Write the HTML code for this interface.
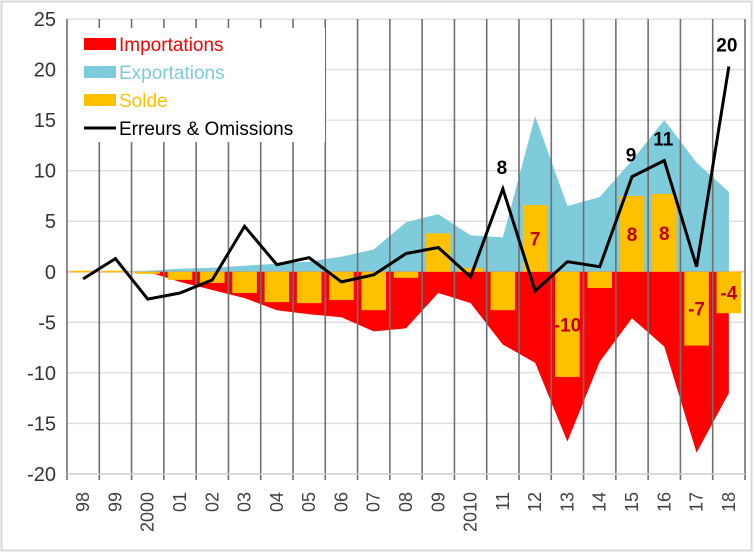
<!DOCTYPE html>
<html><head><meta charset="utf-8"><style>
html,body{margin:0;padding:0;background:#fff}
svg{display:block;font-family:"Liberation Sans",Arial,sans-serif}
</style></head><body>
<svg id="chart" width="754" height="553" xmlns="http://www.w3.org/2000/svg">
<rect x="1.5" y="1.5" width="750" height="549" fill="#fff" stroke="#d9d9d9" stroke-width="2"/>
<g id="grid"></g><g id="areas"></g><g id="bars"></g><g id="vlines"></g><g id="line"></g><g id="labels"></g><g id="axes"></g>
<g>
<rect x="69" y="28" width="256" height="114" fill="#fff"/>
<g><rect x="84" y="38" width="32" height="12" fill="#ff0000"/><text x="119" y="51" font-size="19" fill="#ff0000">Importations</text></g>
<g><rect x="84" y="66" width="32" height="12" fill="#7ecbdc"/><text x="119" y="79" font-size="19" fill="#7ecbdc">Exportations</text></g>
<g><rect x="84" y="94" width="32" height="12" fill="#ffc000"/><text x="119" y="107" font-size="19" fill="#ffc000">Solde</text></g>
<g><line x1="84" y1="128" x2="116" y2="128" stroke="#000" stroke-width="3"/><text x="119" y="135" font-size="19" fill="#000">Erreurs &amp; Omissions</text></g>
</g>
</svg>
<script>
const categories=["98","99","2000","01","02","03","04","05","06","07","08","09","2010","11","12","13","14","15","16","17","18"];
const exportations=[0,0,0.1,0.3,0.4,0.6,0.8,1.0,1.5,2.2,4.9,5.7,3.6,3.4,15.4,6.5,7.4,11.0,15.0,10.8,7.9];
const importations=[0,0,0,-1.0,-1.8,-2.6,-3.8,-4.2,-4.5,-5.9,-5.6,-2.1,-3.1,-7.2,-9.0,-16.8,-8.9,-4.6,-7.4,-17.9,-12.0];
const solde=[0.1,0.1,-0.2,-0.8,-1.1,-2.1,-3.0,-3.1,-2.8,-3.8,-0.6,3.8,0.4,-3.8,6.6,-10.4,-1.6,7.5,7.7,-7.3,-4.1];
const erreurs=[-0.7,1.3,-2.7,-2.1,-0.8,4.5,0.7,1.4,-1.0,-0.3,1.8,2.4,-0.5,8.2,-1.9,1.0,0.5,9.4,11.0,0.5,20.3];
const soldeLabels=[null,null,null,null,null,null,null,null,null,null,null,null,null,null,"7","-10",null,"8","8","-7","-4"];
const erreursLabels=[null,null,null,null,null,null,null,null,null,null,null,null,null,"8",null,null,null,"9","11",null,"20"];
const yTicks=[25,20,15,10,5,0,-5,-10,-15,-20];

const NS="http://www.w3.org/2000/svg";
const L=67,R=745,T=19,B=474,yMin=-20,yMax=25;
const bw=(R-L)/categories.length;
const xs=i=>L+bw*(i+0.5);
const ys=v=>T+(yMax-v)/(yMax-yMin)*(B-T);
function mk(parent,tag,attrs){const e=document.createElementNS(NS,tag);for(const k in attrs)e.setAttribute(k,attrs[k]);document.getElementById(parent).appendChild(e);return e;}

yTicks.forEach(t=>{
  const g=mk('grid','line',{x1:L,x2:R,y1:ys(t),y2:ys(t),stroke:t===0?'#f4c7a8':'#dcdcdc','stroke-width':t===0?2:1.3});
  
  
  const tx=mk('axes','text',{x:56,y:ys(t)+7,'text-anchor':'end','font-size':20,fill:'#333'});
  tx.textContent=t;
  
  
});
function areaPath(vals){let d='M'+xs(0)+','+ys(0);vals.forEach((v,i)=>{d+=' L'+xs(i)+','+ys(v);});d+=' L'+xs(vals.length-1)+','+ys(0)+' Z';return d;}
const ea=mk('areas','path',{d:areaPath(exportations),fill:'#7ecbdc'});


const ia=mk('areas','path',{d:areaPath(importations),fill:'#ff0000'});


solde.forEach((v,i)=>{
  const y0=ys(Math.max(v,0)),h=Math.abs(ys(v)-ys(0));
  const r=mk('bars','rect',{x:xs(i)-bw*0.38,y:y0,width:bw*0.76,height:Math.max(h,1.5),fill:'#ffc000'});
  
  
});
for(let i=0;i<=categories.length;i++){
  const x=L+bw*i;
  const v=mk('vlines','line',{x1:x,x2:x,y1:T,y2:B+6,stroke:'#707070','stroke-width':1.6});
  
  
}
const ax=mk('axes','line',{x1:L,x2:R,y1:B,y2:B,stroke:'#d0d0d0','stroke-width':1.5});


categories.forEach((c,i)=>{
  const t=mk('axes','text',{x:0,y:0,'text-anchor':'end','font-size':18,fill:'#404040',transform:`translate(${xs(i)+6},492) rotate(-90)`});
  t.textContent=c;
  
  
});
const pl=mk('line','polyline',{points:erreurs.map((v,i)=>xs(i)+','+ys(v)).join(' '),fill:'none',stroke:'#000','stroke-width':3,'stroke-linejoin':'miter'});


solde.forEach((v,i)=>{
  if(!soldeLabels[i])return;
  const yc=(ys(v)+ys(0))/2+7;
  const t=mk('labels','text',{x:xs(i),y:yc,'text-anchor':'middle','font-size':19,'font-weight':'bold',fill:'#c00000'});
  t.textContent=soldeLabels[i];
  
  
});
erreurs.forEach((v,i)=>{
  if(!erreursLabels[i])return;
  const t=mk('labels','text',{x:xs(i)+(i===categories.length-1?-2:-1),y:ys(v)-15,'text-anchor':'middle','font-size':19,'font-weight':'bold',fill:'#000'});
  t.textContent=erreursLabels[i];
  
  
});
</script>
</body></html>
